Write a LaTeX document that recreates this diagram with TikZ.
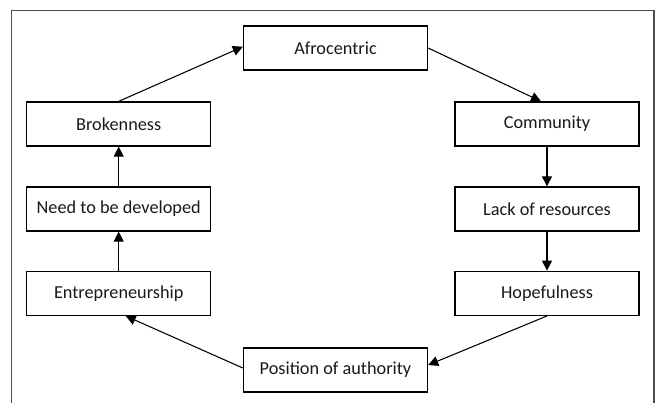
\documentclass[tikz,border=0pt]{standalone}
\usepackage{fontspec}
\setmainfont{Carlito}
\usetikzlibrary{arrows.meta,calc}
\begin{document}
\begin{tikzpicture}[x=0.75pt,y=-0.75pt,
  box/.style={draw, line width=1pt, minimum width=138pt, minimum height=33pt, inner sep=0pt,
    font=\fontsize{13.7}{16}\selectfont, text=black!90},
  arr/.style={line width=0.8pt, -{Triangle[length=7.5pt,width=7.5pt]}},
  frame/.style={draw=gray!60!black, line width=0.8pt}]
\useasboundingbox (0,0) rectangle (660,403);
\coordinate (fbl) at (11.7,403);
\coordinate (ftr) at (654,10.7);
\coordinate (fbr) at (654,403);
\draw[frame] (fbl) |- (ftr) -- (fbr);
\node[box] (afro) at (335.5,48) {Afrocentric};
\node[box] (brok) at (118.7,124) {Brokenness};
\node[box] (comm) at (547,124) {Community};
\node[box] (need) at (118.7,209) {Need to be developed};
\node[box] (lack) at (547,209) {Lack of resources};
\node[box] (entr) at (118.7,293.3) {Entrepreneurship};
\node[box] (hope) at (547,293.3) {Hopefulness};
\node[box] (pos) at (335.5,370) {Position of authority};
\draw[arr] (brok.north) -- ($(afro.west)+(0,-1.3)$);
\draw[arr] (afro.east) -- ($(comm.north)+(-6,0)$);
\draw[arr] (comm.south) -- (lack.north);
\draw[arr] (lack.south) -- (hope.north);
\draw[arr] (hope.south) -- ($(pos.east)+(0,-5)$);
\draw[arr] ($(pos.west)+(0,-2)$) -- ($(entr.south)+(7,0)$);
\draw[arr] (entr.north) -- (need.south);
\draw[arr] (need.north) -- (brok.south);
\end{tikzpicture}
\end{document}
